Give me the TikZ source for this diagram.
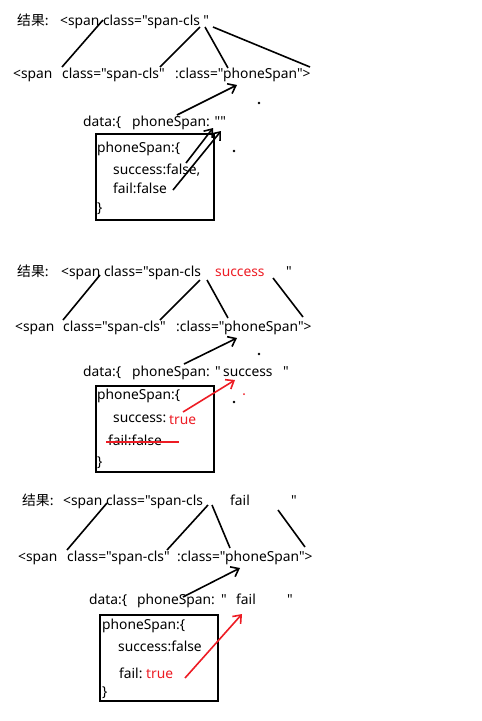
\documentclass[tikz,border=0pt]{standalone}
\usepackage{fontspec}
\newfontfamily\uifont{Noto Sans}
\newfontfamily\cjk{Noto Sans CJK SC}
\usetikzlibrary{arrows.meta}
\definecolor{penred}{RGB}{237,28,36}

\begin{document}
\begin{tikzpicture}[x=1pt,y=-1pt,
  txt/.style={anchor=base west,inner sep=0pt,font=\uifont\fontsize{13.8}{16}\selectfont},
  hot/.style={txt,text=penred},
  frame/.style={draw,line width=1.8pt,anchor=north west,minimum width=118pt,minimum height=86pt,inner sep=0pt},
  pen/.style={line width=1.6pt},
  penarrow/.style={pen,-{Straight Barb[length=7pt,width=11pt]}},
  dot/.style={circle,fill,inner sep=0pt,minimum size=2.6pt}]
\useasboundingbox (0,0) rectangle (482,721);

% first state: both false
\node[txt] (res1) at (17,25) {\cjk 结果:};
\node[txt] (out1) at (60,25) {<span class="span-cls "};
\node[txt] (tag1) at (13,78) {<span};
\node[txt] (cls1) at (62,78) {class="span-cls"};
\node[txt] (bind1) at (175,78) {:class="phoneSpan">};
\node[txt] (data1) at (83,126) {data:\{};
\node[txt] (key1) at (132,126) {phoneSpan: ""};
\node[frame] (box1) at (95,133) {};
\node[txt] (obj1) at (97,152) {phoneSpan:\{};
\node[txt] (ok1) at (113,174) {success:false,};
\node[txt] (bad1) at (113,193) {fail:false};
\node[txt] (end1) at (97,212) {\}};
\node[dot] (d1) at (259,103) {};
\node[dot] (d2) at (234,151) {};
\coordinate (t1a) at (103,20); \coordinate (b1a) at (62,67);
\coordinate (t1b) at (200,27); \coordinate (b1b) at (160,67);
\coordinate (t1c) at (205,27); \coordinate (b1c) at (228,68);
\coordinate (t1d) at (213,27); \coordinate (b1d) at (310,67);
\coordinate (s1) at (177,115); \coordinate (h1) at (237,85);
\coordinate (s2) at (186,163); \coordinate (h2) at (213,128);
\coordinate (s3) at (173,190); \coordinate (h3) at (221,131);
\draw[pen] (t1a) -- (b1a);
\draw[pen] (t1b) -- (b1b);
\draw[pen] (t1c) -- (b1c);
\draw[pen] (t1d) -- (b1d);
\draw[penarrow] (s1) -- (h1);
\draw[penarrow] (s2) -- (h2);
\draw[penarrow] (s3) -- (h3);

% second state: success true
\node[txt] (res2) at (17,276) {\cjk 结果:};
\node[txt] (out2) at (61,276) {<span class="span-cls};
\node[hot] (val2) at (215,276) {success};
\node[txt] (q2) at (286,276) {"};
\node[txt] (tag2) at (15,331) {<span};
\node[txt] (cls2) at (63,331) {class="span-cls"};
\node[txt] (bind2) at (176,331) {:class="phoneSpan">};
\node[txt] (data2) at (83,376) {data:\{};
\node[txt] (key2) at (132,376) {phoneSpan:};
\node[txt] (qa2) at (215,376) {"};
\node[txt] (str2) at (223,376) {success};
\node[txt] (qb2) at (283,376) {"};
\node[frame] (box2) at (95,385) {};
\node[txt] (obj2) at (97,399) {phoneSpan:\{};
\node[txt] (ok2) at (113,422) {success:};
\node[hot] (yes2) at (169,424) {true};
\node[txt] (bad2) at (108,445) {fail:false};
\node[txt] (end2) at (97,466) {\}};
\node[dot] (d3) at (259,354) {};
\node[dot] (d4) at (234,402) {};
\node[dot,text=penred,fill=penred,minimum size=2pt] (d5) at (244,394) {};
\coordinate (t2a) at (100,275); \coordinate (b2a) at (63,320);
\coordinate (t2b) at (200,280); \coordinate (b2b) at (160,320);
\coordinate (t2c) at (207,280); \coordinate (b2c) at (228,318);
\coordinate (t2d) at (273,278); \coordinate (b2d) at (303,317);
\coordinate (s4) at (184,364); \coordinate (h4) at (237,338);
\coordinate (s5) at (183,412); \coordinate (h5) at (235,380);
\coordinate (x1) at (106,442); \coordinate (x2) at (179,442);
\draw[pen] (t2a) -- (b2a);
\draw[pen] (t2b) -- (b2b);
\draw[pen] (t2c) -- (b2c);
\draw[pen] (t2d) -- (b2d);
\draw[penarrow] (s4) -- (h4);
\draw[penarrow,penred] (s5) -- (h5);
\draw[pen,penred] (x1) -- (x2);

% third state: fail true
\node[txt] (res3) at (22,505) {\cjk 结果:};
\node[txt] (out3) at (63,505) {<span class="span-cls};
\node[txt] (val3) at (230,505) {fail};
\node[txt] (q3) at (291,505) {"};
\node[txt] (tag3) at (18,561) {<span};
\node[txt] (cls3) at (67,561) {class="span-cls"};
\node[txt] (bind3) at (177,561) {:class="phoneSpan">};
\node[txt] (data3) at (89,604) {data:\{};
\node[txt] (key3) at (137,604) {phoneSpan:};
\node[txt] (qa3) at (221,604) {"};
\node[txt] (str3) at (236,604) {fail};
\node[txt] (qb3) at (287,604) {"};
\node[frame] (box3) at (99,614) {};
\node[txt] (obj3) at (102,629) {phoneSpan:\{};
\node[txt] (ok3) at (118,651) {success:false};
\node[txt] (bad3) at (119,678) {fail:};
\node[hot] (yes3) at (146,678) {true};
\node[txt] (end3) at (102,696) {\}};
\coordinate (t3a) at (107,503); \coordinate (b3a) at (67,550);
\coordinate (t3b) at (208,505); \coordinate (b3b) at (167,550);
\coordinate (t3c) at (212,505); \coordinate (b3c) at (230,548);
\coordinate (t3d) at (278,510); \coordinate (b3d) at (305,547);
\coordinate (s6) at (183,597); \coordinate (h6) at (240,568);
\coordinate (s7) at (185,678); \coordinate (h7) at (242,614);
\draw[pen] (t3a) -- (b3a);
\draw[pen] (t3b) -- (b3b);
\draw[pen] (t3c) -- (b3c);
\draw[pen] (t3d) -- (b3d);
\draw[penarrow] (s6) -- (h6);
\draw[penarrow,penred] (s7) -- (h7);
\end{tikzpicture}
\end{document}
